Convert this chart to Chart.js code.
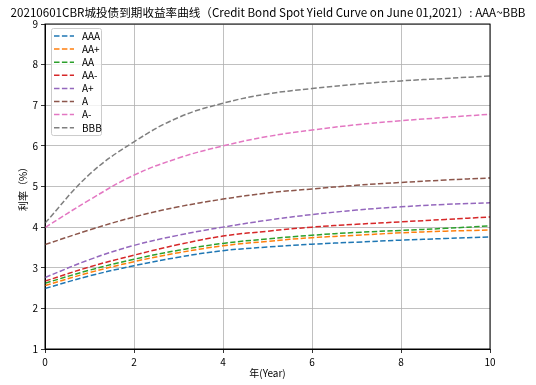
<!DOCTYPE html>
<html>
<head>
<meta charset="utf-8">
<script src="https://cdn.jsdelivr.net/npm/chart.js@4"></script>
<style>
  html, body { margin: 0; padding: 0; background: #fff; }
  #wrap { width: 536px; height: 385px; }
</style>
</head>
<body>
<div id="wrap"><canvas id="chart"></canvas></div>
<script>
// ── Data ────────────────────────────────────────────────────
const years  = [0, 1, 2, 3, 4, 5, 6, 7, 8, 9, 10];
const ratings = ['AAA', 'AA+', 'AA', 'AA-', 'A+', 'A', 'A-', 'BBB'];

const yAAA   = [2.49, 2.80, 3.05, 3.26, 3.42, 3.51, 3.58, 3.63, 3.68, 3.72, 3.76];
const yAAp   = [2.56, 2.88, 3.15, 3.37, 3.54, 3.65, 3.74, 3.80, 3.86, 3.90, 3.93];
const yAA    = [2.62, 2.94, 3.21, 3.43, 3.60, 3.71, 3.80, 3.87, 3.92, 3.97, 4.03];
const yAAm   = [2.67, 3.02, 3.31, 3.57, 3.78, 3.90, 4.00, 4.07, 4.13, 4.19, 4.25];
const yAp    = [2.76, 3.20, 3.55, 3.80, 4.00, 4.17, 4.31, 4.42, 4.50, 4.56, 4.60];
const yA     = [3.57, 3.93, 4.25, 4.50, 4.69, 4.84, 4.94, 5.03, 5.10, 5.16, 5.21];
const yAm    = [3.99, 4.67, 5.28, 5.70, 6.00, 6.23, 6.39, 6.52, 6.62, 6.70, 6.78];
const yBBB   = [4.10, 5.30, 6.10, 6.70, 7.05, 7.28, 7.41, 7.52, 7.60, 7.66, 7.72];

const xTicks = [0, 2, 4, 6, 8, 10];
const yTicks = [1, 2, 3, 4, 5, 6, 7, 8, 9];

const series = [yAAA, yAAp, yAA, yAAm, yAp, yA, yAm, yBBB];
const COLORS = ['#1f77b4', '#ff7f0e', '#2ca02c', '#d62728',
                '#9467bd', '#8c564b', '#e377c2', '#7f7f7f'];

const FONT = "'Noto Sans CJK SC', 'DejaVu Sans', sans-serif";
const DASH = [5.5, 2.4];

// ── Frame + legend drawn inside the plot, matplotlib style ──
const framePlugin = {
    id: 'frameLegend',
    afterDatasetsDraw(chart) {
        const { ctx, chartArea: a } = chart;
        ctx.save();
        // spines
        ctx.strokeStyle = '#000';
        ctx.lineWidth = 1;
        ctx.strokeRect(a.left, a.top, a.right - a.left, a.bottom - a.top);

        // legend box
        const lx = a.left + 6, ly = a.top + 4, lw = 50, lh = 107;
        ctx.beginPath();
        ctx.roundRect(lx + 0.5, ly + 0.5, lw, lh, 2);
        ctx.fillStyle = 'rgba(255,255,255,0.8)';
        ctx.fill();
        ctx.strokeStyle = '#cccccc';
        ctx.lineWidth = 1;
        ctx.stroke();

        ctx.font = '10px ' + FONT;
        ctx.textBaseline = 'middle';
        chart.data.datasets.forEach((ds, i) => {
            const y = ly + 8 + i * 13.1;
            ctx.beginPath();
            ctx.setLineDash(DASH);
            ctx.strokeStyle = ds.borderColor;
            ctx.lineWidth = 1.5;
            ctx.moveTo(lx + 3, y);
            ctx.lineTo(lx + 23, y);
            ctx.stroke();
            ctx.setLineDash([]);
            ctx.fillStyle = '#000';
            ctx.fillText(ds.label, lx + 31, y);
        });
        ctx.restore();
    }
};

const datasets = ratings.map((r, i) => ({
    label: r,
    data: years.map((x, j) => ({ x, y: series[i][j] })),
    borderColor: COLORS[i],
    backgroundColor: COLORS[i],
    borderWidth: 1.5,
    borderDash: DASH,
    pointRadius: 0,
    tension: 0.4,
    fill: false
}));

new Chart(document.getElementById('chart'), {
    type: 'line',
    data: { datasets },
    plugins: [framePlugin],
    options: {
        responsive: true,
        maintainAspectRatio: false,
        animation: false,
        layout: { padding: 0 },
        plugins: {
            legend: { display: false },
            tooltip: { enabled: false },
            title: {
                display: true,
                text: '20210601CBR城投债到期收益率曲线（Credit Bond Spot Yield Curve on June 01,2021）: AAA~BBB',
                color: '#000',
                font: { family: FONT, size: 11.6, weight: 'normal', lineHeight: 1.2 },
                padding: { top: 5.5, bottom: 4.6 }
            }
        },
        scales: {
            x: {
                type: 'linear',
                min: 0, max: 10,
                afterBuildTicks: s => { s.ticks = xTicks.map(v => ({ value: v })); },
                afterFit: s => { s.height = 36; },
                ticks: { color: '#000', padding: 3, maxRotation: 0,
                         font: { family: FONT, size: 10 } },
                grid: { color: '#b0b0b0', lineWidth: 0.8, tickLength: 4, tickColor: '#000' },
                border: { color: '#000' },
                title: { display: true, text: '年(Year)', color: '#000',
                         font: { family: FONT, size: 10 }, padding: { top: 0, bottom: 6 } }
            },
            y: {
                min: 1, max: 9,
                afterBuildTicks: s => { s.ticks = yTicks.map(v => ({ value: v })); },
                afterFit: s => { s.width = 45; },
                ticks: { color: '#000', padding: 3,
                         font: { family: FONT, size: 10 } },
                grid: { color: '#b0b0b0', lineWidth: 0.8, tickLength: 4, tickColor: '#000' },
                border: { color: '#000' },
                title: { display: true, text: '利率（%）', color: '#000',
                         font: { family: FONT, size: 10 }, padding: { top: 17, bottom: 0 } }
            },
            // empty right-hand margin so the title can use the full width
            yRight: {
                position: 'right',
                min: 1, max: 9,
                afterFit: s => { s.width = 46; },
                ticks: { display: false },
                grid: { display: false },
                border: { display: false }
            }
        }
    }
});
</script>
</body>
</html>
